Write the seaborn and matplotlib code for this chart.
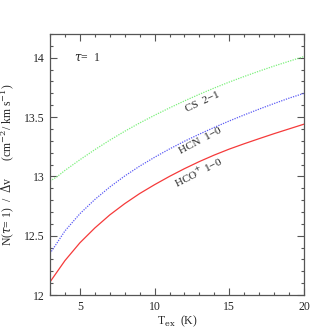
import numpy as np
import pandas as pd
import matplotlib
matplotlib.use("Agg")
import matplotlib.pyplot as plt
from matplotlib.ticker import MultipleLocator
import seaborn as sns

# excitation temperature grid (K)
tex = [3, 4, 5, 6, 7, 8, 9, 10, 11, 12, 13, 14, 15, 16, 17, 18, 19, 20]
hco_col = [12.11, 12.29, 12.44, 12.565, 12.675, 12.77, 12.855, 12.93, 13.00, 13.065,
           13.125, 13.18, 13.23, 13.275, 13.318, 13.36, 13.40, 13.44]
hcn_col = [12.35, 12.54, 12.685, 12.805, 12.91, 13.003, 13.086, 13.161, 13.231, 13.296,
           13.356, 13.413, 13.467, 13.518, 13.567, 13.614, 13.659, 13.70]
tex_cs = [3, 3.5, 4, 5, 6, 7, 8, 9, 10, 11, 12, 13, 14, 15, 16, 17, 18, 19, 20]
cs_col = [12.96, 13.00, 13.05, 13.14, 13.225, 13.305, 13.38, 13.45, 13.515, 13.577,
          13.636, 13.692, 13.745, 13.795, 13.842, 13.887, 13.93, 13.97, 14.01]

sns.set_style("ticks")
plt.rcParams['font.family'] = ['Liberation Serif', 'DejaVu Serif']
plt.rcParams['mathtext.fontset'] = 'dejavuserif'

fig = plt.figure(figsize=(3.32, 3.30), dpi=100)
ax = fig.add_axes([0.1506, 0.106, 0.765, 0.791])

sns.lineplot(x=tex_cs, y=cs_col, ax=ax, color='#7CF07C', lw=0.9, linestyle=(0, (1, 1)))
sns.lineplot(x=tex, y=hcn_col, ax=ax, color='#5B5BF5', lw=0.9, linestyle=(0, (1, 1)))
sns.lineplot(x=tex, y=hco_col, ax=ax, color='#F53A3A', lw=0.9)

ax.set_xlim(3, 20)
ax.set_ylim(12, 14.2)
ax.xaxis.set_major_locator(MultipleLocator(5))
ax.xaxis.set_minor_locator(MultipleLocator(1))
ax.yaxis.set_minor_locator(MultipleLocator(0.1))
ax.set_yticks([12, 12.5, 13, 13.5, 14])
ax.set_yticklabels(['12', '12.5', '13', '13.5', '14'])
ax.tick_params(which='both', direction='in', top=True, right=True,
               labelsize=8.5, color='#555555', width=0.8)
ax.tick_params(which='major', length=5, pad=4)
ax.tick_params(which='minor', length=2.5)
for s in ax.spines.values():
    s.set_color('#555555')
    s.set_linewidth(0.9)

ax.set_xlabel(r'T$_{\rm ex}$  (K)', fontsize=8.5, labelpad=1)
ax.set_ylabel(r'N($\tau$= 1)  /  $\Delta$v      (cm$^{-2}$/ km s$^{-1}$)',
              fontsize=8.5, labelpad=5)

ax.text(4.6, 14.0, r'$\tau$=  1', fontsize=8.5, va='center', ha='left')
ax.text(13.2, 13.63, 'CS  2\u22121', fontsize=8, rotation=25, ha='center', va='center')
ax.text(13.07, 13.30, 'HCN  1\u22120', fontsize=8, rotation=28, ha='center', va='center')
ax.text(12.93, 13.035, 'HCO$^{+}$ 1\u22120', fontsize=8,
        rotation=27, ha='center', va='center')

fig.savefig('out.png', dpi=100)
